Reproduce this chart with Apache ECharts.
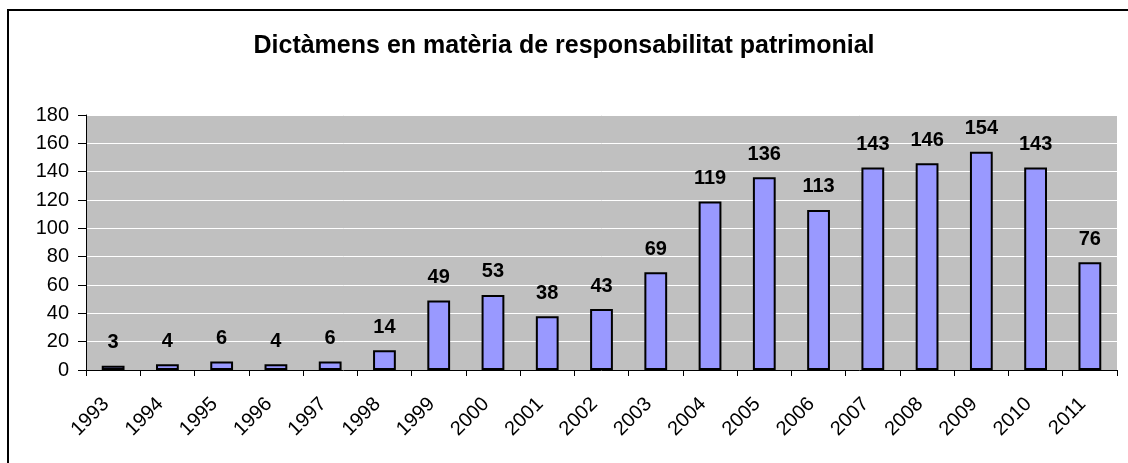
<!DOCTYPE html>
<html><head><meta charset="utf-8">
<script src="https://cdn.jsdelivr.net/npm/echarts@6/dist/echarts.min.js"></script>
<style>html,body{margin:0;padding:0;background:#fff}#c{width:1128px;height:463px}
#frame{position:absolute;left:7px;top:9px;width:1130px;height:470px;border:2px solid #000;box-sizing:border-box;pointer-events:none}</style>
</head><body><div id="c"></div><div id="frame"></div>
<script>
const title = 'Dictàmens en matèria de responsabilitat patrimonial';
const years = ['1993','1994','1995','1996','1997','1998','1999','2000','2001','2002','2003','2004','2005','2006','2007','2008','2009','2010','2011'];
const values = [3,4,6,4,6,14,49,53,38,43,69,119,136,113,143,146,154,143,76];
const chart = echarts.init(document.getElementById('c'), null, {renderer:'canvas'});
chart.setOption({
  animation:false,
  backgroundColor:'#fff',
  title:{text:title,left:'center',top:29,textStyle:{fontFamily:'Liberation Sans, Arial',fontWeight:'bold',fontSize:25,color:'#000'}},
  grid:{left:86,right:11,top:115,bottom:93,show:true,backgroundColor:'#c0c0c0',borderWidth:0},
  xAxis:{type:'category',data:years,
    axisLine:{lineStyle:{color:'#000',width:1}},
    axisTick:{show:true,alignWithLabel:false,length:6,lineStyle:{color:'#000'}},
    axisLabel:{rotate:45,fontSize:20,color:'#000',fontFamily:'Liberation Sans, Arial',margin:24,padding:[0,10,0,0]}},
  yAxis:{type:'value',min:0,max:180,interval:20,
    axisLine:{show:true,lineStyle:{color:'#000',width:1}},
    axisTick:{show:true,length:8,lineStyle:{color:'#000'}},
    splitLine:{lineStyle:{color:'#fff',width:1}},
    axisLabel:{fontSize:20,color:'#000',fontFamily:'Liberation Sans, Arial',margin:17}},
  series:[{type:'bar',data:values,barWidth:'42%',
    itemStyle:{color:'#9999ff',borderColor:'#000',borderWidth:2},
    label:{show:true,position:'top',distance:13,fontSize:20,fontWeight:'bold',color:'#000',fontFamily:'Liberation Sans, Arial'}}]
});
</script></body></html>
